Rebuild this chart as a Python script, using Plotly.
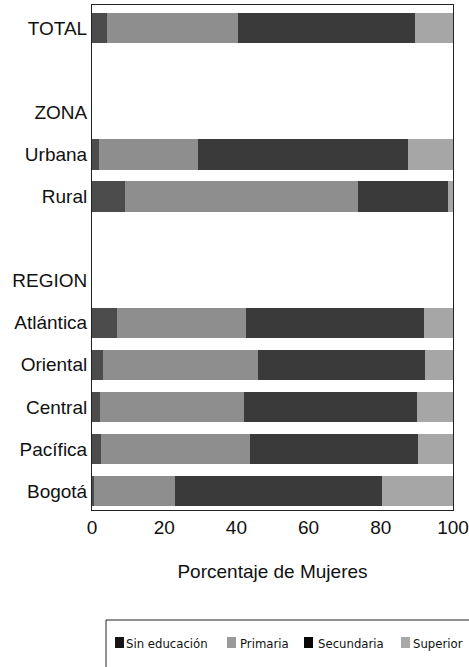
import plotly.graph_objects as go

categories = ["TOTAL", "", "ZONA", "Urbana", "Rural", " ", "REGION",
              "Atlántica", "Oriental", "Central", "Pacífica", "Bogotá"]
sin_educacion = [4.2, None, None, 2.0, 9.1, None, None, 7.0, 3.0, 2.2, 2.4, 0.5]
primaria      = [36.2, None, None, 27.4, 64.6, None, None, 35.6, 43.0, 40.0, 41.4, 22.5]
secundaria    = [49.1, None, None, 58.2, 24.9, None, None, 49.4, 46.2, 47.9, 46.6, 57.2]
superior      = [10.5, None, None, 12.4, 1.4, None, None, 8.0, 7.8, 9.9, 9.6, 19.8]
x_ticks = [0, 20, 40, 60, 80, 100]
series_names = ["Sin educación", "Primaria", "Secundaria", "Superior"]
colors = ["#4c4c4c", "#8e8e8e", "#3a3a3a", "#a6a6a6"]
legend_colors = ["#151515", "#9a9a9a", "#080808", "#a8a8a8"]

W, H = 469, 667
ML, MR, MT, MB = 92, 16, 5, 157
PW, PH = W - ML - MR, H - MT - MB


def px_x(p):
    return (p - ML) / PW


def px_y(p):
    return (H - MB - p) / PH


pos = list(range(len(categories)))
fig = go.Figure()
for name, vals, c in zip(series_names, [sin_educacion, primaria, secundaria, superior], colors):
    fig.add_trace(go.Bar(y=pos, x=vals, name=name, orientation="h", showlegend=False,
                         marker=dict(color=c, line=dict(width=0)), width=0.72))

# manual compact legend (box, swatches, labels)
shapes = [dict(type="rect", xref="paper", yref="paper",
               x0=px_x(106), x1=px_x(480), y0=px_y(620), y1=px_y(690),
               line=dict(color="#222", width=1), fillcolor="rgba(0,0,0,0)")]
annotations = []
swatch_x = [115, 227, 304, 401]
text_x = [124, 238, 316, 411]
for name, lc, sx, tx in zip(series_names, legend_colors, swatch_x, text_x):
    shapes.append(dict(type="rect", xref="paper", yref="paper",
                       x0=px_x(sx), x1=px_x(sx + 9), y0=px_y(648), y1=px_y(637),
                       line=dict(width=0), fillcolor=lc))
    annotations.append(dict(xref="paper", yref="paper", x=px_x(tx), y=px_y(643),
                            text=name, showarrow=False, xanchor="left", yanchor="middle",
                            font=dict(family="Liberation Sans Narrow, DejaVu Sans Condensed, Liberation Sans, sans-serif",
                                      size=13, color="#111")))

fig.update_layout(
    barmode="stack",
    width=W, height=H,
    margin=dict(l=ML, r=MR, t=MT, b=MB, autoexpand=False),
    plot_bgcolor="white", paper_bgcolor="white",
    font=dict(family="Liberation Sans, Arial, sans-serif", size=19, color="#111"),
    xaxis=dict(range=[0, 100], tickvals=x_ticks, showgrid=False,
               showline=True, linecolor="#222", linewidth=1, mirror=True, ticks="",
               zeroline=False, automargin=False,
               title=dict(text="Porcentaje de Mujeres", standoff=27, font=dict(size=19))),
    yaxis=dict(range=[11.45, -0.55], tickvals=pos, ticktext=categories, showgrid=False,
               showline=True, linecolor="#222", linewidth=1, mirror=True, ticks="",
               zeroline=False, automargin=False, tickfont=dict(size=19)),
    shapes=shapes,
    annotations=annotations,
)
fig.write_html("out.html", config={"displayModeBar": False},
               post_script="document.body.style.margin='0';")
